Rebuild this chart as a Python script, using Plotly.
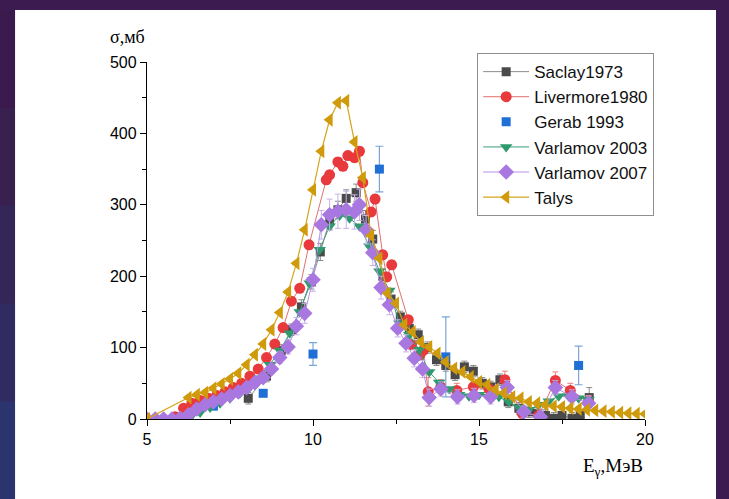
import plotly.graph_objects as go

# ---------------- data ----------------
saclay_x = [8.05, 8.6, 9.05, 9.35, 9.65, 9.95, 10.22, 10.5, 10.75, 11.0, 11.3, 11.58, 11.8, 12.1,
            12.35, 12.63, 12.9, 13.17, 13.45, 13.72, 14.0, 14.28, 14.56, 14.83, 15.1, 15.35, 15.63,
            15.88, 16.2, 16.5, 16.75, 17.0, 17.25, 17.5, 17.8, 18.05, 18.32]
saclay_y = [29, 60, 96, 125, 157, 192, 234, 278, 293, 309, 317, 280, 252, 200,
            168, 143, 127, 118, 100, 83, 75, 62, 73, 67, 50, 45, 55,
            24, 15, 10, 8, 5, 1, 5, 1, 5, 30]
saclay_err = [8, 8, 8, 8, 10, 10, 12, 12, 12, 12, 12, 12, 12, 10,
              10, 8, 8, 8, 8, 8, 8, 8, 8, 8, 8, 8, 8,
              8, 8, 8, 8, 8, 8, 8, 8, 8, 14]

liv_x = [5.85, 6.1, 6.35, 6.6, 6.85, 7.1, 7.35, 7.6, 7.85, 8.1, 8.35, 8.6, 8.85, 9.1, 9.35, 9.6,
         9.88, 10.4, 10.5, 10.75, 10.9, 11.05, 11.25, 11.4, 11.5, 11.75, 11.87, 12.1, 12.22, 12.37,
         12.87, 12.97, 13.22, 13.32, 13.47, 13.85, 14.33, 14.83, 15.3, 15.78, 16.3, 16.8, 17.3,
         17.75, 18.3]
liv_y = [3, 15, 22, 26, 29, 33, 38, 44, 50, 60, 70, 86, 105, 128, 165, 183,
         244, 335, 342, 360, 354, 369, 366, 375, 331, 290, 308, 230, 199, 216,
         139, 104, 90, 96, 38, 45, 40, 45, 42, 55, 8, 5, 54,
         40, 25]
liv_err = [2, 3, 3, 3, 3, 3, 3, 3, 3, 4, 4, 4, 4, 5, 5, 5,
           6, 6, 6, 6, 6, 6, 6, 6, 6, 6, 6, 6, 6, 6,
           6, 6, 6, 6, 20, 10, 10, 10, 10, 12, 8, 8, 12,
           10, 8]

gerab_x = [7.0, 8.5, 10.0, 12.0, 14.0, 18.0]
gerab_y = [18, 36, 91, 350, 87, 75]
gerab_err = [3, 3, 16, 32, 56, 27]

v03_x = [6.3, 6.6, 6.9, 7.2, 7.5, 7.8, 8.1, 8.4, 8.7, 9.0, 9.3, 9.6, 9.9, 10.2, 10.5, 10.8,
         11.1, 11.4, 11.7, 12.0, 12.3, 12.6, 12.9, 13.2, 13.5, 13.8, 14.1, 14.4, 14.7, 15.0,
         15.3, 15.6, 15.9, 16.2, 16.5, 16.8, 17.1, 17.4, 17.7, 18.0, 18.3]
v03_y = [2, 9, 16, 22, 29, 36, 45, 57, 76, 96, 120, 150, 190, 237, 270, 285,
         281, 270, 242, 207, 180, 134, 118, 97, 66, 51, 42, 34, 32, 34,
         31, 31, 24, 16, 13, 20, 25, 32, 32, 29, 27]

v07_x = [5.0, 5.25, 5.5, 5.75, 6.0, 6.25, 6.5, 6.75, 7.0, 7.25, 7.5, 7.75, 8.0, 8.25, 8.5, 8.75,
         9.0, 9.25, 9.5, 9.75, 10.0, 10.25, 10.5, 10.75, 11.0, 11.25, 11.4, 11.6, 11.8, 12.05,
         12.3, 12.55, 12.8, 13.05, 13.3, 13.5, 13.85, 14.35, 14.85, 15.35, 15.85, 16.35, 16.85,
         17.3, 17.8, 18.3]
v07_y = [0, 0, 0, 0, 1, 6, 14, 20, 24, 28, 33, 38, 44, 51, 58, 70,
         86, 101, 130, 148, 195, 272, 286, 291, 293, 290, 300, 265, 233, 184,
         160, 127, 106, 85, 70, 30, 42, 31, 33, 31, 44, 10, 3,
         44, 31, 22]
v07_err = [1, 1, 1, 1, 1, 2, 3, 3, 3, 3, 4, 4, 4, 5, 5, 6,
           8, 10, 12, 14, 16, 20, 22, 24, 26, 24, 22, 20, 18, 16,
           14, 12, 12, 12, 12, 12, 10, 10, 10, 10, 10, 8, 8,
           10, 10, 10]

talys_x = [5.0, 6.25, 6.5, 6.75, 7.0, 7.25, 7.5, 7.75, 8.0, 8.25, 8.5, 8.75, 9.0, 9.25, 9.5, 9.75,
           10.0, 10.25, 10.5, 10.75, 11.0, 11.25, 11.5, 11.75, 12.0, 12.25, 12.5, 12.75, 13.0,
           13.25, 13.5, 13.75, 14.0, 14.25, 14.5, 14.75, 15.0, 15.25, 15.5, 15.75, 16.0, 16.25,
           16.5, 16.75, 17.0, 17.25, 17.5, 17.75, 18.0, 18.25, 18.5, 18.75, 19.0, 19.25, 19.5,
           19.75, 20.0]
talys_y = [0, 30, 34, 37, 43, 49, 56, 64, 76, 90, 105, 125, 149, 178, 218, 265,
           321, 375, 419, 443, 446, 388, 338, 257, 225, 176, 162, 132, 122,
           108, 101, 92, 80, 71, 66, 59, 52, 48, 41, 36, 31, 29,
           24, 22, 20, 18, 17, 15, 14, 13, 12, 11, 10, 9, 8,
           7.5, 7]

x_ticks = [5, 10, 15, 20]
y_ticks = [0, 100, 200, 300, 400, 500]

# ---------------- figure ----------------
fig = go.Figure()

fig.add_trace(go.Scatter(
    x=saclay_x, y=saclay_y, name="Saclay1973", mode="lines+markers",
    line=dict(color="#8c8c8c", width=1),
    marker=dict(symbol="square", size=9, color="#4a4a4a"),
    error_y=dict(type="data", array=saclay_err, color="#8a8a8a", thickness=1, width=3)))

fig.add_trace(go.Scatter(
    x=liv_x, y=liv_y, name="Livermore1980", mode="lines+markers",
    line=dict(color="#e07070", width=1),
    marker=dict(symbol="circle", size=11, color="#e8393c"),
    error_y=dict(type="data", array=liv_err, color="#e88080", thickness=1, width=3)))

fig.add_trace(go.Scatter(
    x=gerab_x, y=gerab_y, name="Gerab 1993", mode="markers",
    marker=dict(symbol="square", size=9, color="#1f6fd6"),
    error_y=dict(type="data", array=gerab_err, color="#7aa6d4", thickness=1.2, width=4)))

fig.add_trace(go.Scatter(
    x=v03_x, y=v03_y, name="Varlamov 2003", mode="lines+markers",
    line=dict(color="#3a9e7a", width=1),
    marker=dict(symbol="triangle-down", size=11, color="#2f9a6e")))

fig.add_trace(go.Scatter(
    x=v07_x, y=v07_y, name="Varlamov 2007", mode="lines+markers",
    line=dict(color="#b592e6", width=1),
    marker=dict(symbol="diamond", size=12, color="#a878e0"),
    error_y=dict(type="data", array=v07_err, color="#c8b0ea", thickness=1, width=3)))

fig.add_trace(go.Scatter(
    x=talys_x, y=talys_y, name="Talys", mode="lines+markers",
    line=dict(color="#d6a51c", width=1.2),
    marker=dict(symbol="triangle-left", size=12, color="#cf9a0b")))

sans = "Arial, 'Liberation Sans', sans-serif"
serif = "'Times New Roman', 'Liberation Serif', serif"

# background: dark slide with white chart panel
left_cols = ["#3b1a4e", "#38204f", "#342657", "#302c62", "#2c3470"]
shapes = [dict(type="rect", xref="paper", yref="paper", x0=-0.265, x1=1.1426,
               y0=-0.224, y1=1.1457, fillcolor="white", line=dict(width=0), layer="below")]
n = len(left_cols)
for i, c in enumerate(left_cols):
    y_top = 1.1457 + (-0.224 - 1.1457) * i / n
    y_bot = 1.1457 + (-0.224 - 1.1457) * (i + 1) / n
    shapes.append(dict(type="rect", xref="paper", yref="paper", x0=-0.296, x1=-0.265,
                       y0=y_bot, y1=y_top, fillcolor=c, line=dict(width=0), layer="below"))

fig.update_layout(
    width=729, height=499, autosize=False,
    margin=dict(l=147, r=84, t=62, b=80),
    paper_bgcolor="#3b1b50", plot_bgcolor="white",
    shapes=shapes,
    showlegend=True,
    legend=dict(x=0.663, y=1.025, xanchor="left", yanchor="top",
                bgcolor="white", bordercolor="#8f8f8f", borderwidth=1,
                font=dict(family=sans, size=17, color="#111"),
                itemwidth=46, tracegroupgap=0),
    xaxis=dict(range=[5, 20], tickvals=x_ticks, ticks="outside", ticklen=6, tickwidth=1.3,
               tickcolor="black", showline=True, linecolor="black", linewidth=1.3,
               showgrid=False, zeroline=False,
               tickfont=dict(family=sans, size=16, color="black"),
               minor=dict(tickvals=[7.5, 12.5, 17.5], ticks="outside", ticklen=4,
                          tickcolor="black", tickwidth=1.2)),
    yaxis=dict(range=[0, 500], tickvals=y_ticks, ticks="outside", ticklen=6, tickwidth=1.3,
               tickcolor="black", showline=True, linecolor="black", linewidth=1.3,
               showgrid=False, zeroline=False,
               tickfont=dict(family=sans, size=16, color="black"),
               minor=dict(dtick=50, ticks="outside", ticklen=4,
                          tickcolor="black", tickwidth=1.2)),
    annotations=[
        dict(text="σ,мб", xref="paper", yref="paper", x=-0.04, y=1.07,
             xanchor="center", yanchor="middle", showarrow=False,
             font=dict(family=serif, size=18, color="black")),
        dict(text="E<sub>γ</sub>,МэВ", xref="paper", yref="paper", x=1.0, y=-0.134,
             xanchor="right", yanchor="middle", showarrow=False,
             font=dict(family=serif, size=19, color="black")),
    ],
)

fig.write_html("out.html")
